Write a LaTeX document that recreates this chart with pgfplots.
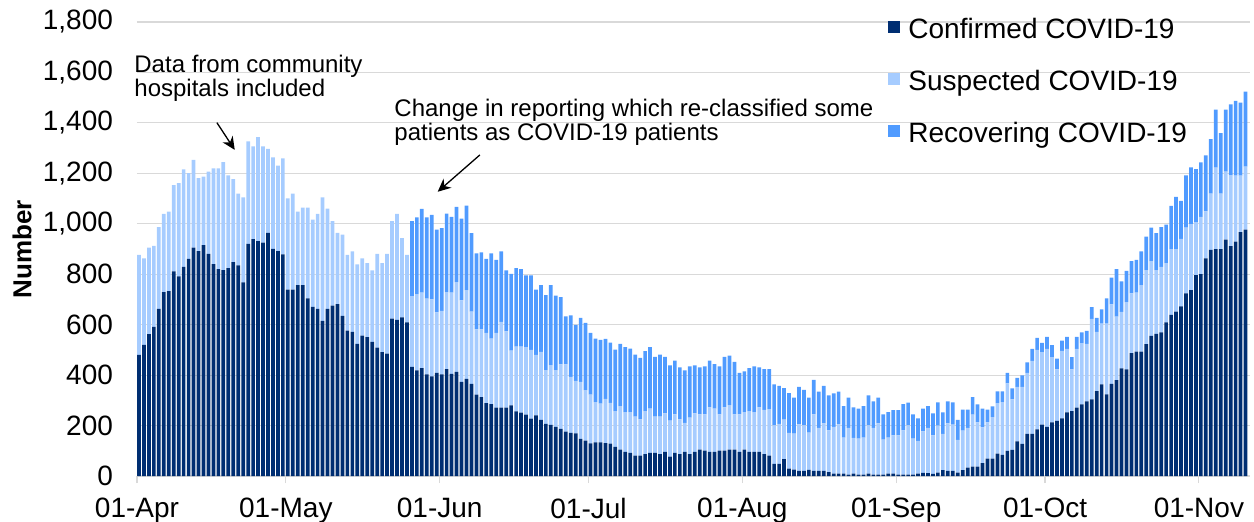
\documentclass[border=0pt]{standalone}
\usepackage{pgfplots}
\pgfplotsset{compat=1.18}
\usepackage{pgfplotstable}
\usepackage{fontspec}
\setmainfont{Liberation Sans}
\usetikzlibrary{arrows.meta}

\definecolor{confirmed}{RGB}{0,46,114}
\definecolor{suspected}{RGB}{166,204,255}
\definecolor{recovering}{RGB}{80,155,255}
\definecolor{gridgrey}{RGB}{217,217,217}

% day index (0 = 01-Apr), confirmed, suspected, recovering
\pgfplotstableread{
x c s r
0 480 397 0
1 520 343 0
2 563 342 0
3 591 321 0
4 663 324 0
5 729 310 0
6 733 315 0
7 811 342 0
8 791 370 0
9 829 387 0
10 861 340 0
11 905 348 0
12 892 289 0
13 915 272 0
14 881 326 0
15 840 380 0
16 820 400 0
17 816 428 0
18 824 368 0
19 848 329 0
20 835 285 0
21 768 337 0
22 920 407 0
23 939 368 0
24 931 413 0
25 925 382 0
26 964 333 0
27 901 362 0
28 892 339 0
29 879 380 0
30 739 362 0
31 739 381 0
32 757 291 0
33 757 307 0
34 704 360 0
35 671 345 0
36 663 376 0
37 615 490 0
38 663 397 0
39 676 335 0
40 681 283 0
41 635 322 0
42 576 301 0
43 571 320 0
44 524 315 0
45 557 306 0
46 551 293 0
47 532 283 0
48 509 372 0
49 491 353 0
50 485 396 0
51 624 387 0
52 619 420 0
53 629 314 0
54 609 268 0
55 433 280 298
56 419 302 304
57 428 299 332
58 403 300 322
59 395 305 335
60 409 240 328
61 403 252 328
62 424 305 311
63 405 322 300
64 413 356 298
65 373 323 324
66 385 352 335
67 365 287 311
68 323 258 302
69 313 268 306
70 289 278 294
71 285 260 338
72 271 296 290
73 271 340 280
74 271 302 242
75 280 217 304
76 256 257 311
77 251 262 307
78 243 268 284
79 227 273 295
80 240 240 259
81 223 269 265
82 207 213 297
83 203 237 317
84 195 225 295
85 187 256 266
86 176 267 190
87 171 222 244
88 169 208 222
89 147 226 254
90 140 200 267
91 129 194 244
92 133 160 252
93 133 154 253
94 130 176 238
95 128 162 239
96 115 142 244
97 105 172 247
98 96 157 258
99 92 161 252
100 81 154 246
101 81 144 243
102 87 170 238
103 92 175 244
104 92 143 237
105 87 148 246
106 96 152 224
107 77 143 219
108 92 152 213
109 87 138 206
110 96 115 208
111 87 144 204
112 96 152 191
113 105 139 187
114 101 143 191
115 96 176 185
116 96 171 177
117 101 143 191
118 101 171 200
119 105 176 196
120 105 139 208
121 96 148 165
122 105 148 162
123 96 161 171
124 96 157 182
125 96 176 159
126 87 175 162
127 81 184 159
128 48 153 162
129 48 159 150
130 67 157 124
131 29 142 158
132 25 143 143
133 20 185 148
134 20 181 140
135 24 148 139
136 20 224 137
137 20 171 144
138 20 189 148
139 15 166 139
140 9 186 133
141 9 196 130
142 9 143 125
143 5 186 120
144 9 142 121
145 5 143 119
146 5 147 125
147 9 192 119
148 5 186 105
149 5 204 102
150 5 139 100
151 9 143 101
152 9 152 100
153 5 156 100
154 5 176 104
155 5 196 90
156 5 143 96
157 9 130 89
158 12 165 90
159 11 180 86
160 8 153 87
161 13 187 92
162 23 144 85
163 20 189 87
164 20 184 88
165 13 130 80
166 23 157 83
167 33 158 72
168 37 206 70
169 37 176 71
170 51 142 74
171 69 144 50
172 69 164 43
173 89 200 47
174 84 209 43
175 100 267 42
176 104 200 43
177 137 216 36
178 127 226 46
179 167 242 42
180 167 289 48
181 185 315 48
182 204 287 37
183 195 309 48
184 213 258 48
185 219 204 42
186 228 268 41
187 252 252 48
188 257 166 48
189 271 233 48
190 284 243 42
191 296 228 51
192 304 319 47
193 337 234 56
194 363 241 57
195 324 280 100
196 365 315 107
197 380 252 188
198 427 224 121
199 423 266 124
200 487 237 128
201 493 234 130
202 493 264 134
203 523 293 133
204 556 296 133
205 564 252 147
206 569 260 158
207 609 235 153
208 639 261 171
209 652 248 207
210 673 267 151
211 724 261 207
212 737 262 225
213 796 211 210
214 800 227 216
215 863 186 222
216 897 223 216
217 900 323 230
218 900 220 239
219 937 270 246
220 911 282 280
221 929 262 296
222 967 224 289
223 977 250 297
}\beds

\begin{document}
\begin{tikzpicture}
\useasboundingbox (0,0) rectangle (627pt,260.5pt);
\begin{axis}[
  at={(68.5pt,22.5pt)}, anchor=south west,
  width=556.5pt, height=227pt, scale only axis,
  ybar stacked, bar width=1.85pt,
  xmin=-0.4, xmax=223.9, ymin=0, ymax=1800,
  enlargelimits=false, clip=false,
  ytick distance=200,
  ymajorgrids, grid style={gridgrey, line width=0.6pt},
  axis line style={draw=none},
  xtick={-0.4,29.6,60.6,90.6,121.6,152.6,182.6,213.6},
  xticklabels={01-Apr,01-May,01-Jun,01-Jul,01-Aug,01-Sep,01-Oct,01-Nov},
  tick align=outside, tick pos=left,
  major tick length=3.5pt,
  xtick style={gridgrey, line width=0.6pt},
  ytick style={draw=none},
  tick label style={font=\fontsize{14}{16}\selectfont},
  yticklabel style={xshift=-5pt},
  xticklabel style={yshift=-4pt},
  /pgf/number format/assume math mode=true,
  /pgf/number format/1000 sep={,},
  ylabel={Number},
  every axis y label/.style={at={(axis description cs:-0.1033,0.5)}, rotate=90, anchor=center,
    font=\bfseries\fontsize{13}{15}\selectfont},
  legend image code/.code={\fill[#1] (0pt,-1.3pt) rectangle (6pt,4.7pt);},
  legend cell align=left,
  legend style={at={(0.6748,1.0183)}, anchor=north west, draw=none, fill=none,
    inner sep=0pt, font=\fontsize{14}{16}\selectfont, row sep=9.5pt,
    /tikz/every odd column/.append style={column sep=2.5pt},
    nodes={text height=10.5pt, text depth=3pt, inner sep=1.5pt}},
]
\addplot[fill=confirmed, draw=none] table[x=x, y=c] {\beds};
\addplot[fill=suspected, draw=none] table[x=x, y=s] {\beds};
\addplot[fill=recovering, draw=none] table[x=x, y=r] {\beds};
\legend{Confirmed COVID-19, Suspected COVID-19, Recovering COVID-19}

\node[anchor=north west, align=left, inner sep=0pt, font=\fontsize{12}{12}\selectfont]
  at (axis cs:-1,1672) {Data from community\\hospitals included};
\node[anchor=north west, align=left, inner sep=0pt, font=\fontsize{12}{12}\selectfont]
  at (axis cs:51.4,1497) {Change in reporting which re-classified some\\patients as COVID-19 patients};
\draw[-{Stealth[length=6.5pt, width=6pt]}, line width=0.65pt] (axis cs:15.7,1401) -- (axis cs:19.3,1293);
\draw[-{Stealth[length=6.5pt, width=6pt]}, line width=0.65pt] (axis cs:68.7,1273) -- (axis cs:60.2,1127);
\end{axis}
\end{tikzpicture}
\end{document}
